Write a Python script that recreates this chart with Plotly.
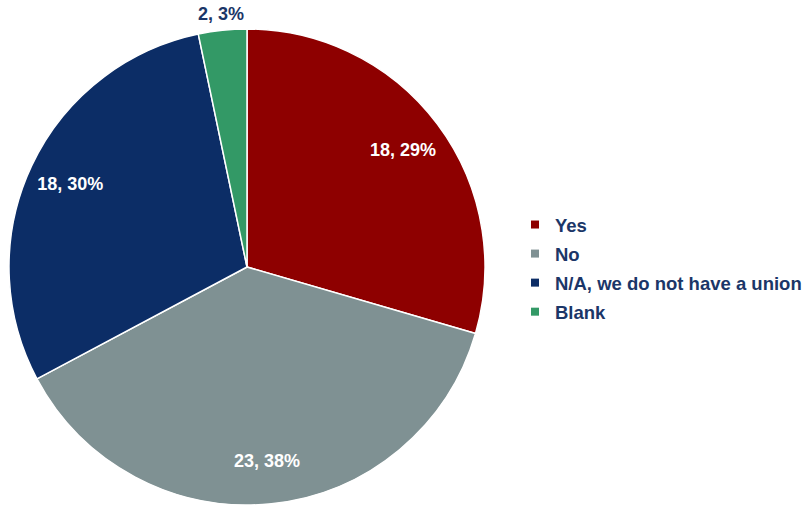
import math
import plotly.graph_objects as go

# Survey responses
categories = ["Yes", "No", "N/A, we do not have a union", "Blank"]
counts = [18, 23, 18, 2]
percent_labels = ["29%", "38%", "30%", "3%"]
colors = ["#8E0000", "#7F9193", "#0C2D66", "#339966"]
inside_slices = [True, True, True, False]

navy = "#1B3668"
font_family = "Liberation Sans, Arial, sans-serif"

W, H = 807, 506
cx, cy, R = 247, 267, 238  # pie centre and radius in pixels
domain = dict(x=[(cx - R) / W, (cx + R) / W],
              y=[(H - cy - R) / H, (H - cy + R) / H])

label_text = [f"{c}, {p}" for c, p in zip(counts, percent_labels)]

fig = go.Figure()

# Filled slices
fig.add_trace(go.Pie(
    labels=categories,
    values=counts,
    sort=False,
    direction="clockwise",
    rotation=0,
    marker=dict(colors=colors, line=dict(color="white", width=1.5)),
    textinfo="none",
    showlegend=False,
    hoverinfo="label+value+percent",
    domain=domain,
))

# Transparent ring carrying the data labels, so they sit in the outer part of each slice
fig.add_trace(go.Pie(
    labels=categories,
    values=counts,
    sort=False,
    direction="clockwise",
    rotation=0,
    hole=0.64,
    marker=dict(colors=["rgba(0,0,0,0)"] * len(counts), line=dict(width=0)),
    text=[t if ins else "" for t, ins in zip(label_text, inside_slices)],
    textinfo="text",
    textposition="inside",
    insidetextorientation="horizontal",
    insidetextfont=dict(family=font_family, size=18, color="white", weight="bold"),
    showlegend=False,
    hoverinfo="skip",
    domain=domain,
))

# Small slices get their label just outside the rim, centred on the slice
total = sum(counts)
cum = 0
for c, t, ins in zip(counts, label_text, inside_slices):
    mid = 2 * math.pi * (cum + c / 2) / total
    cum += c
    if ins:
        continue
    px = cx + (R + 16) * math.sin(mid)
    py = cy - (R + 16) * math.cos(mid)
    fig.add_annotation(
        x=px / W, y=(H - py) / H, xref="paper", yref="paper",
        text=t, showarrow=False, xanchor="center", yanchor="middle",
        font=dict(family=font_family, size=18, color=navy, weight="bold"),
    )

# Legend entries with small square swatches
for i, (name, col) in enumerate(zip(categories, colors)):
    fig.add_trace(go.Scatter(
        x=[None], y=[None], mode="markers", name=name,
        legendgroup=f"g{i}",
        marker=dict(symbol="square", size=8, color=col),
        hoverinfo="skip",
    ))

fig.update_layout(
    width=W, height=H,
    margin=dict(l=0, r=0, t=0, b=0),
    paper_bgcolor="white", plot_bgcolor="white",
    xaxis=dict(visible=False), yaxis=dict(visible=False),
    legend=dict(
        x=1, y=(H - 206) / H, xanchor="right", yanchor="top",
        font=dict(family=font_family, size=18.5, color=navy, weight="bold"),
        bgcolor="rgba(0,0,0,0)", itemwidth=30, tracegroupgap=2,
    ),
)

fig.write_html("out.html")
